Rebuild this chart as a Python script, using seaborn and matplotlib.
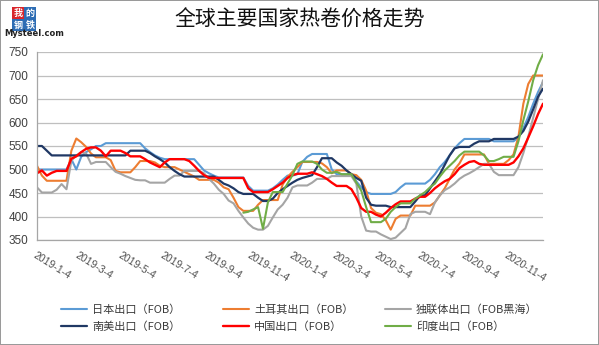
import numpy as np
import pandas as pd
import matplotlib
matplotlib.use("Agg")
import matplotlib.pyplot as plt
import matplotlib.transforms as mtransforms
import seaborn as sns

nan = np.nan

# ---------------- data (weekly, 2019-01-04 .. 2020-12-25) ----------------
start_date = "2019-01-04"
n_weeks = 104

japan = [
    500, 500, 500, 500, 500, 500, 500, 522, 500, 527, 537, 543, 550,
    550, 556, 556, 556, 556, 556, 556, 556, 556, 545, 537, 530, 525,
    522, 522, 522, 522, 522, 522, 522, 510, 498, 492, 487, 483, 483,
    483, 483, 483, 483, 465, 455, 455, 455, 455, 460, 468, 478, 487,
    487, 490, 516, 527, 533, 533, 533, 533, 500, 490, 490, 490, 490,
    475, 462, 452, 448, 448, 448, 448, 448, 452, 462, 470, 470, 470,
    470, 470, 478, 490, 505, 516, 530, 545, 556, 565, 565, 565, 565,
    565, 565, 560, 560, 560, 560, 560, 568, 588, 612, 640, 665, 686,
]
turkey = [
    508, 487, 476, 476, 476, 476, 476, 540, 566, 558, 548, 534, 526,
    526, 526, 520, 497, 494, 494, 494, 505, 518, 518, 518, 515, 508,
    505, 505, 505, 500, 495, 490, 485, 478, 478, 478, 478, 472, 462,
    458, 440, 420, 412, 412, 412, 425, 435, 435, 435, 435, 468, 484,
    495, 505, 516, 516, 516, 516, 513, 505, 492, 498, 498, 498, 490,
    488, 478, 455, 418, 408, 405, 392, 372, 395, 402, 402, 402, 423,
    423, 423, 423, 430, 445, 460, 480, 500, 513, 532, 532, 532, 532,
    532, 512, 512, 512, 512, 520, 532, 570, 640, 682, 700, 700, 700,
]
cis = [
    462, 451, 451, 451, 457, 469, 458, 519, 530, 537, 534, 512, 516,
    516, 516, 505, 495, 491, 486, 482, 478, 477, 477, 472, 472, 472,
    472, 480, 487, 487, 497, 497, 497, 497, 492, 480, 470, 457, 448,
    434, 428, 412, 398, 385, 376, 372, 372, 380, 398, 415, 425, 440,
    462, 466, 466, 466, 472, 480, 480, 480, 486, 486, 486, 486, 486,
    470, 400, 370, 368, 368, 362, 357, 352, 355, 365, 375, 405, 410,
    410, 410, 405, 430, 445, 456, 462, 470, 480, 487, 492, 498, 505,
    512, 512, 495, 488, 488, 488, 488, 505, 535, 570, 610, 650, 690,
]
south_america = [
    550, 550, 540, 530, 530, 530, 530, 530, 530, 530, 530, 530, 530,
    530, 530, 530, 530, 530, 530, 540, 540, 540, 540, 535, 528, 522,
    515, 505, 497, 490, 485, 485, 485, 485, 485, 485, 485, 478, 470,
    466, 460, 452, 448, 448, 448, 440, 433, 433, 438, 450, 458, 465,
    472, 478, 482, 485, 488, 505, 524, 524, 524, 515, 508, 498, 490,
    482, 476, 440, 425, 423, 423, 423, 420, 420, 420, 420, 420, 432,
    445, 445, 460, 475, 490, 510, 530, 545, 548, 548, 548, 555, 560,
    560, 560, 565, 565, 565, 565, 565, 570, 582, 602, 628, 655, 672,
]
china = [
    492, 498, 487, 493, 497, 497, 497, 523, 528, 537, 544, 547, 547,
    540, 528, 540, 540, 540, 535, 528, 528, 528, 522, 515, 510, 505,
    515, 522, 522, 522, 522, 518, 508, 497, 488, 482, 482, 482, 482,
    482, 482, 482, 482, 460, 452, 452, 452, 452, 458, 465, 472, 482,
    488, 491, 491, 491, 494, 490, 486, 480, 472, 465, 465, 465, 458,
    440, 418, 410, 410, 404, 400, 408, 418, 426, 432, 432, 432, 438,
    442, 442, 450, 460, 468, 475, 480, 490, 503, 510, 516, 518, 512,
    510, 510, 510, 510, 510, 510, 515, 528, 545, 568, 592, 618, 640,
]
india = [
    nan, nan, nan, nan, nan, nan, nan, nan, nan, nan, nan, nan, nan,
    nan, nan, nan, nan, nan, nan, nan, nan, nan, nan, nan, nan, nan,
    nan, nan, nan, nan, nan, nan, nan, nan, nan, nan, nan, nan, nan,
    nan, nan, nan, 408, 410, 415, 420, 374, 430, 452, 452, 452, 470,
    488, 512, 517, 517, 517, 512, 500, 493, 493, 495, 490, 490, 490,
    472, 455, 420, 388, 388, 388, 395, 410, 420, 428, 428, 428, 438,
    445, 452, 462, 470, 485, 498, 508, 518, 530, 538, 538, 538, 538,
    530, 518, 518, 522, 527, 527, 527, 560, 605, 645, 690, 722, 745,
]

series_names = ["日本出口（FOB）", "土耳其出口（FOB）", "独联体出口（FOB黑海）",
                "南美出口（FOB）", "中国出口（FOB）", "印度出口（FOB）"]
series_values = [japan, turkey, cis, south_america, china, india]
series_colors = ["#5B9BD5", "#ED7D31", "#A5A5A5", "#203864", "#FF0000", "#70AD47"]
series_widths = [1.5, 1.5, 1.5, 1.6, 1.7, 1.5]

tick_dates = ["2019-01-04", "2019-03-04", "2019-05-04", "2019-07-04", "2019-09-04",
              "2019-11-04", "2020-01-04", "2020-03-04", "2020-05-04", "2020-07-04",
              "2020-09-04", "2020-11-04"]
tick_labels = ["2019-1-4", "2019-3-4", "2019-5-4", "2019-7-4", "2019-9-4", "2019-11-4",
               "2020-1-4", "2020-3-4", "2020-5-4", "2020-7-4", "2020-9-4", "2020-11-4"]
y_ticks = [350, 400, 450, 500, 550, 600, 650, 700, 750]

title = "全球主要国家热卷价格走势"

# ---------------- build long table ----------------
dates = pd.date_range(start_date, periods=n_weeks, freq="7D")
frames = []
for name, vals in zip(series_names, series_values):
    frames.append(pd.DataFrame({"date": dates, "price": vals, "series": name}))
df = pd.concat(frames, ignore_index=True)

sns.set_theme(style="white")
plt.rcParams["font.family"] = ["Noto Sans CJK SC", "DejaVu Sans"]

W, H = 599, 345
fig = plt.figure(figsize=(W / 100, H / 100), dpi=100)
fig.patch.set_facecolor("white")
fig.patch.set_edgecolor("#9A9A9A")
fig.patch.set_linewidth(1.2)

ax = fig.add_axes([37 / W, 1 - 240 / H, (543 - 37) / W, (240 - 52) / H])

handles = []
for name, color, lw in zip(series_names, series_colors, series_widths):
    sub = df[df["series"] == name].dropna()
    sns.lineplot(data=sub, x="date", y="price", color=color, linewidth=lw,
                 ax=ax, label=name, legend=False)
    handles.append(ax.lines[-1])

ax.set_ylim(350, 750)
ax.set_xlim(dates[0], dates[-1])
ax.set_yticks(y_ticks)
ax.set_yticklabels([str(v) for v in y_ticks], family=["Liberation Sans"], fontsize=8.5,
                   color="#404040")
ax.set_xticks(pd.to_datetime(tick_dates))
ax.set_xticklabels(tick_labels, rotation=-32, ha="left", va="top",
                   rotation_mode="anchor", family=["Liberation Sans"], fontsize=7.5,
                   color="#505050")
shift = mtransforms.ScaledTranslation(-6 / 100, -3 / 100, fig.dpi_scale_trans)
for lbl in ax.get_xticklabels():
    lbl.set_transform(lbl.get_transform() + shift)
ax.set_xlabel("")
ax.set_ylabel("")
ax.grid(axis="y", color="#BFBFBF", linewidth=0.9)
ax.grid(axis="x", visible=False)
for s in ["top", "right"]:
    ax.spines[s].set_visible(False)
for s in ["left", "bottom"]:
    ax.spines[s].set_color("#A6A6A6")
    ax.spines[s].set_linewidth(0.9)
ax.tick_params(axis="both", which="major", direction="out", length=4, width=0.8,
               color="#A6A6A6", pad=2)
ax.tick_params(axis="x", pad=3)

# title
fig.text(300 / W, 1 - 20 / H, title, ha="center", va="center", fontsize=15,
         fontweight="medium", color="#111111")

# logo
logo_chars = [("我", 18, 13, "#D9262B"), ("的", 30, 13, "#2E6DB4"),
              ("钢", 18, 25, "#2E6DB4"), ("铁", 30, 25, "#2E6DB4")]
for ch, x, y, bg in logo_chars:
    fig.text(x / W, 1 - y / H, ch, ha="center", va="center", fontsize=6.5,
             color="white", fontweight="bold",
             bbox=dict(boxstyle="square,pad=0.12", facecolor=bg, edgecolor="none"))
fig.text(4 / W, 1 - 34 / H, "Mysteel.com", ha="left", va="center", fontsize=6,
         fontweight="bold", color="#222222", family=["DejaVu Sans"])

# legend: three columns of two rows
cols = [(0, 3), (1, 4), (2, 5)]
col_x = [61, 223, 385]
for (a, b), cx in zip(cols, col_x):
    leg = fig.legend([handles[a], handles[b]], [series_names[a], series_names[b]],
                     loc="upper left", bbox_to_anchor=(cx / W, 1 - 304 / H),
                     frameon=False, fontsize=8, handlelength=2.3, handletextpad=0.5,
                     borderpad=0, borderaxespad=0, labelspacing=0.6)
    for t in leg.get_texts():
        t.set_color("#3A3A3A")

fig.savefig("out.png", dpi=100, facecolor=fig.get_facecolor(),
            edgecolor=fig.get_edgecolor())
